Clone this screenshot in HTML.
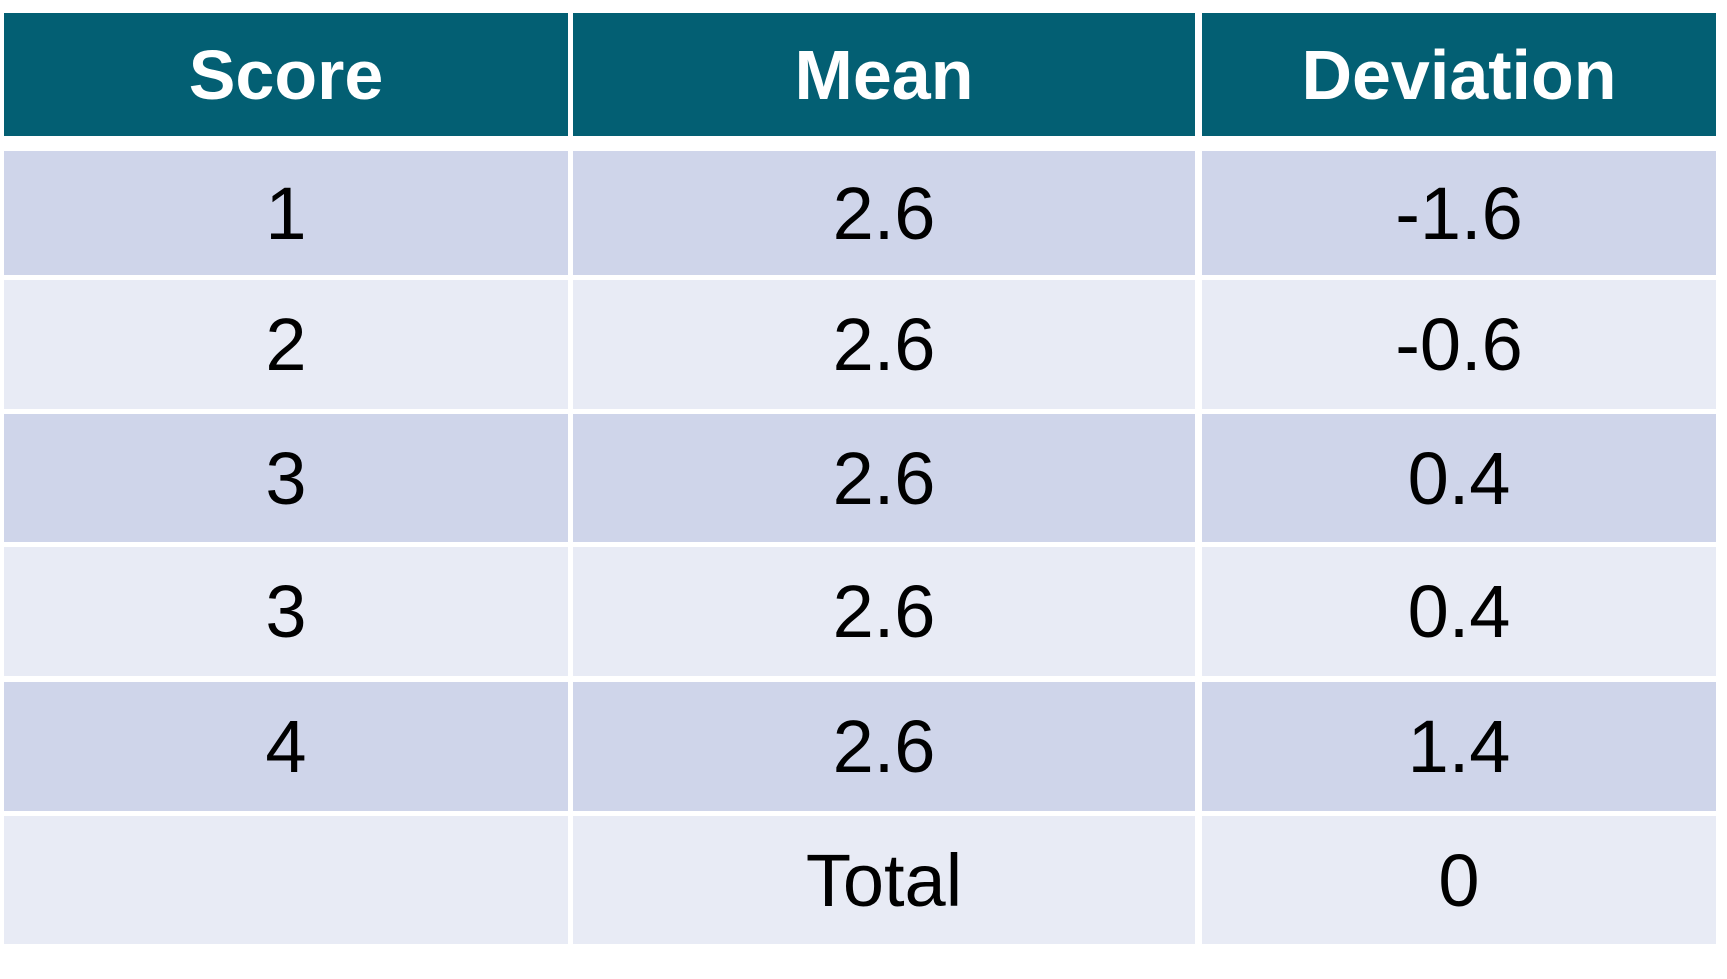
<!DOCTYPE html>
<html><head><meta charset="utf-8"><style>
body{margin:0;width:1727px;height:979px;background:#fff;position:relative;overflow:hidden;font-family:"Liberation Sans",sans-serif}
.c{position:absolute;display:flex;align-items:center;justify-content:center;font-size:74px;color:#000}
.h{background:#035f73;color:#fff;font-weight:bold;font-size:70px}
.d{background:#cfd5ea}.l{background:#e8ebf5}
</style></head><body>
<div id="t"></div>
<script>
const headers=["Score","Mean","Deviation"];
const scores=["1","2","3","3","4",""];
const means=["2.6","2.6","2.6","2.6","2.6","Total"];
const deviations=["-1.6","-0.6","0.4","0.4","1.4","0"];
const cols=[[4,564],[573,622],[1202,514]];
const rows=[[13,123],[151,124],[280,129],[414,128],[547,129],[682,129],[816,128]];
const t=document.getElementById('t');
function cell(r,c,txt,cls,name){
  const e=document.createElement('div');
  e.className='c '+cls;
  e.style.left=cols[c][0]+'px';e.style.width=cols[c][1]+'px';
  e.style.top=rows[r][0]+'px';e.style.height=rows[r][1]+'px';
  e.textContent=txt;
  
  
  t.appendChild(e);
}
headers.forEach((h,i)=>cell(0,i,h,'h','header-'+h.toLowerCase()));
for(let r=0;r<scores.length;r++){
  const cls=(r%2==0&&r<5)?'d':'l';
  cell(r+1,0,scores[r],cls,'score-cell');
  cell(r+1,1,means[r],cls,'mean-cell');
  cell(r+1,2,deviations[r],cls,'deviation-cell');
}
</script>
</body></html>
